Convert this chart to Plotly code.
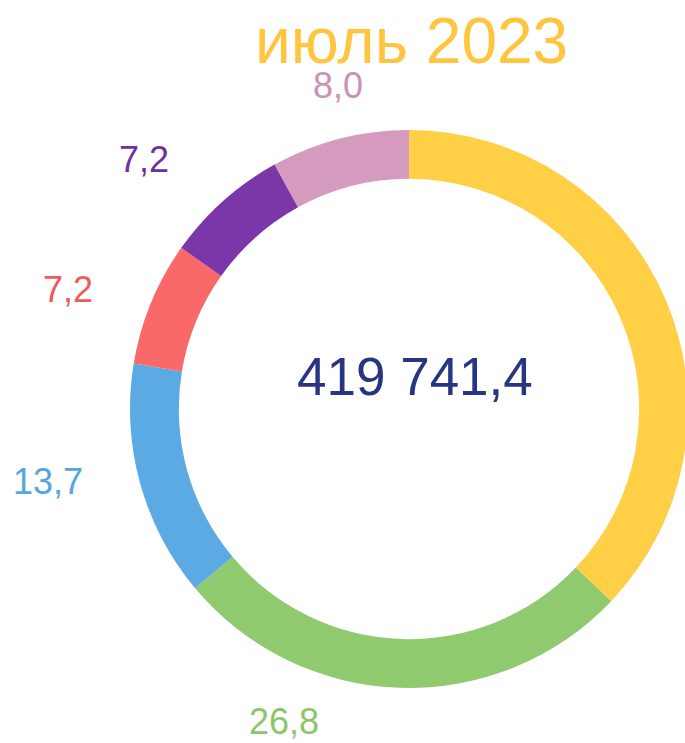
import math
import plotly.graph_objects as go

# ---- data ----
categories = ["A", "B", "C", "D", "E", "F"]
values = [37.1, 26.8, 13.7, 7.2, 7.2, 8.0]
value_labels = ["37,1", "26,8", "13,7", "7,2", "7,2", "8,0"]
slice_colors = ["#FFCF45", "#8FCA6F", "#5BAAE4", "#F96969", "#7B37A7", "#D49BBF"]
label_colors = ["#FFC53F", "#8CC66B", "#55A5DF", "#EE5A5A", "#7030A0", "#C992B6"]
title_text = "июль 2023"
center_text = "419 741,4"

# label placement styling (radius in px from centre, angular nudge in degrees)
label_radius = [350, 337, 368, 361, 364, 331]
label_nudge = [0, 20, 4, -3, -5, 2]

VIEW_W = 685
W, H = 700, 743  # figure slightly wider than the window so the ring can run off the right edge
cx, cy, R = 409, 409, 279

fig = go.Figure()
fig.add_trace(go.Pie(
    labels=categories, values=values, sort=False, direction="clockwise",
    rotation=0, hole=0.825, textinfo="none", hoverinfo="label+value",
    marker=dict(colors=slice_colors, line=dict(width=0)),
    showlegend=False,
    domain=dict(x=[(cx - R) / W, (cx + R) / W], y=[(H - cy - R) / H, (H - cy + R) / H]),
))

annotations = []
total = sum(values)
cum = 0.0
for i, v in enumerate(values):
    mid = (cum + v / 2) / total * 360 + label_nudge[i]
    cum += v
    px = cx + label_radius[i] * math.sin(math.radians(mid))
    py = cy - label_radius[i] * math.cos(math.radians(mid))
    if px + 30 > VIEW_W:
        continue
    annotations.append(dict(
        x=px / W, y=1 - py / H, xref="paper", yref="paper",
        text=value_labels[i], showarrow=False, xanchor="center", yanchor="middle",
        font=dict(family="Liberation Sans, Arial", size=36, color=label_colors[i]),
    ))

annotations.append(dict(
    x=412 / W, y=1 - 41 / H, xref="paper", yref="paper", text=title_text,
    showarrow=False, xanchor="center", yanchor="middle",
    font=dict(family="Liberation Sans, Arial", size=64, color="#FFC53F"),
))
annotations.append(dict(
    x=414.5 / W, y=1 - 376 / H, xref="paper", yref="paper", text=center_text,
    showarrow=False, xanchor="center", yanchor="middle",
    font=dict(family="Liberation Sans, Arial", size=53, color="#283583"),
))

fig.update_layout(
    width=W, height=H, margin=dict(l=0, r=0, t=0, b=0),
    paper_bgcolor="white", plot_bgcolor="white",
    annotations=annotations,
)
fig.write_html(
    "out.html",
    config={"displayModeBar": False},
    post_script="document.documentElement.style.overflow='hidden';"
                "document.body.style.overflow='hidden';"
                "document.body.style.margin='0';",
)
